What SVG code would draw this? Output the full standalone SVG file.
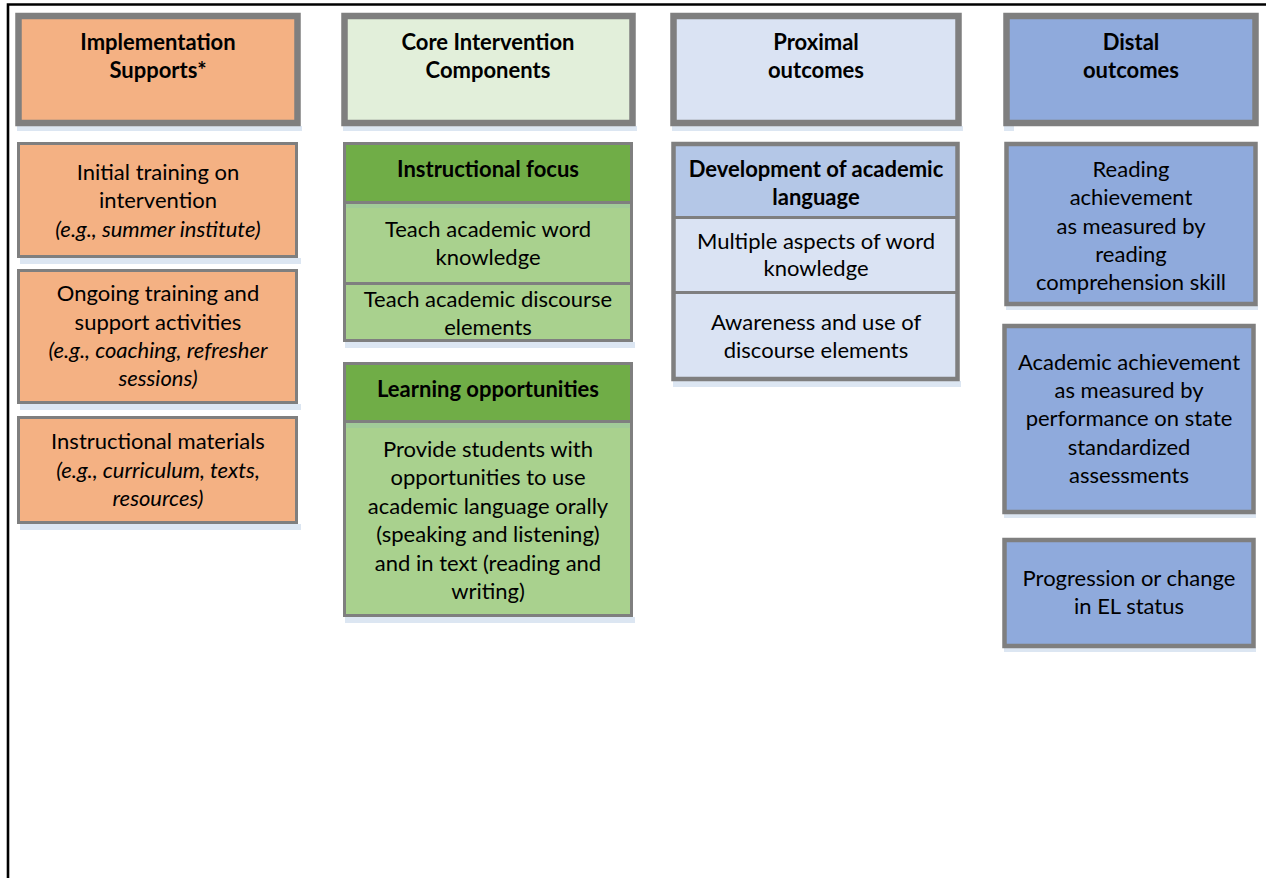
<svg xmlns="http://www.w3.org/2000/svg" width="1266" height="878" viewBox="0 0 1266 878">
  <style>
    text { font-family: Lato, "Open Sans", "Liberation Sans", sans-serif; font-size: 22px; fill: #000; text-anchor: middle; }
    .b { font-weight: bold; }
    .i { font-style: italic; }
    .frame { stroke: #000; stroke-width: 2.6; fill: none; }
    .shadow { fill: #dce6f2; }
    .thick { stroke: #7f7f7f; stroke-width: 6.5; }
    .mid { stroke: #7f7f7f; stroke-width: 4.5; }
    .thin { stroke: #7f7f7f; stroke-width: 3; }
    .div { stroke: #7f7f7f; stroke-width: 3; fill: none; }
    .orange { fill: #f4b183; }
    .paleGreen { fill: #e2efda; }
    .darkGreen { fill: #70ad47; }
    .green { fill: #a9d18e; }
    .paleBlue { fill: #dae3f3; }
    .lightBlue { fill: #b4c7e7; }
    .blue { fill: #8faadc; }
  </style>

  <!-- page frame -->
  <path class="frame" d="M8,878 V4.5 H1266"/>

  <!-- column headers -->
  <g id="header-implementation">
    <rect class="shadow" x="17" y="126" width="285" height="5"/>
    <rect class="orange thick" x="18.5" y="16" width="279" height="107"/>
    <text class="b" x="158" y="50">Implementation</text>
    <text class="b" x="158" y="78">Supports*</text>
  </g>
  <g id="header-core">
    <rect class="shadow" x="343" y="126" width="294" height="5"/>
    <rect class="paleGreen thick" x="344.5" y="16" width="288" height="107"/>
    <text class="b" x="488" y="50">Core Intervention</text>
    <text class="b" x="488" y="78">Components</text>
  </g>
  <g id="header-proximal">
    <rect class="shadow" x="672" y="126" width="291" height="5"/>
    <rect class="paleBlue thick" x="673.5" y="16" width="285" height="107"/>
    <text class="b" x="816" y="50">Proximal</text>
    <text class="b" x="816" y="78">outcomes</text>
  </g>
  <g id="header-distal">
    <rect class="shadow" x="1004" y="126" width="10" height="5"/>
    <rect class="blue thick" x="1006.5" y="16" width="249" height="107"/>
    <text class="b" x="1131" y="50">Distal</text>
    <text class="b" x="1131" y="78">outcomes</text>
  </g>

  <!-- implementation supports -->
  <g id="initial-training">
    <rect class="shadow" x="20" y="258" width="281" height="6"/>
    <rect class="orange thin" x="18.5" y="143.5" width="278" height="113"/>
    <text x="158" y="180">Initial training on</text>
    <text x="158" y="208">intervention</text>
    <text class="i" x="158" y="237">(e.g., summer institute)</text>
  </g>
  <g id="ongoing-training">
    <rect class="shadow" x="20" y="404" width="281" height="6"/>
    <rect class="orange thin" x="18.5" y="270.5" width="278" height="132"/>
    <text x="158" y="301">Ongoing training and</text>
    <text x="158" y="330">support activities</text>
    <text class="i" x="158" y="358">(e.g., coaching, refresher</text>
    <text class="i" x="158" y="386">sessions)</text>
  </g>
  <g id="instructional-materials">
    <rect class="shadow" x="20" y="524" width="281" height="6"/>
    <rect class="orange thin" x="18.5" y="417.5" width="278" height="105"/>
    <text x="158" y="449">Instructional materials</text>
    <text class="i" x="158" y="478">(e.g., curriculum, texts,</text>
    <text class="i" x="158" y="506">resources)</text>
  </g>

  <!-- core intervention components -->
  <g id="instructional-focus">
    <rect class="shadow" x="345" y="342" width="290" height="6"/>
    <rect class="darkGreen" x="344.5" y="143.5" width="287" height="60"/>
    <rect class="green" x="344.5" y="203.5" width="287" height="137"/>
    <rect fill="#9cc6a0" x="346" y="203" width="286" height="5" opacity="0.6"/>
    <rect fill="none" class="thin" x="344.5" y="143.5" width="287" height="197"/>
    <path class="div" d="M344.5,202.5 H631.5 M344.5,283.5 H631.5"/>
    <text class="b" x="488" y="177">Instructional focus</text>
    <text x="488" y="237">Teach academic word</text>
    <text x="488" y="265">knowledge</text>
    <text x="488" y="307">Teach academic discourse</text>
    <text x="488" y="335">elements</text>
  </g>
  <g id="learning-opportunities">
    <rect class="shadow" x="345" y="617" width="290" height="6"/>
    <rect class="darkGreen" x="344.5" y="363.5" width="287" height="59"/>
    <rect class="green" x="344.5" y="422.5" width="287" height="193"/>
    <rect fill="#9cc6a0" x="346" y="423" width="286" height="5" opacity="0.6"/>
    <rect fill="none" class="thin" x="344.5" y="363.5" width="287" height="252"/>
    <path class="div" d="M344.5,421.5 H631.5"/>
    <text class="b" x="488" y="397">Learning opportunities</text>
    <text x="488" y="457">Provide students with</text>
    <text x="488" y="485">opportunities to use</text>
    <text x="488" y="514">academic language orally</text>
    <text x="488" y="542">(speaking and listening)</text>
    <text x="488" y="571">and in text (reading and</text>
    <text x="488" y="599">writing)</text>
  </g>

  <!-- proximal outcomes -->
  <g id="academic-language">
    <rect class="shadow" x="673" y="381" width="288" height="6"/>
    <rect class="lightBlue" x="673.5" y="144" width="284" height="74"/>
    <rect class="paleBlue" x="673.5" y="218" width="284" height="161"/>
    <rect fill="none" class="mid" x="673.5" y="144" width="284" height="235"/>
    <path class="div" d="M673.5,217.5 H957.5 M673.5,292.5 H957.5"/>
    <text class="b" x="816" y="177">Development of academic</text>
    <text class="b" x="816" y="205">language</text>
    <text x="816" y="249">Multiple aspects of word</text>
    <text x="816" y="276">knowledge</text>
    <text x="816" y="330">Awareness and use of</text>
    <text x="816" y="358">discourse elements</text>
  </g>

  <!-- distal outcomes -->
  <g id="reading-achievement">
    <rect class="shadow" x="1006" y="305" width="252" height="5"/>
    <rect class="blue mid" x="1006.5" y="144" width="249" height="160"/>
    <text x="1131" y="177">Reading</text>
    <text x="1131" y="205">achievement</text>
    <text x="1131" y="234">as measured by</text>
    <text x="1131" y="262">reading</text>
    <text x="1131" y="290">comprehension skill</text>
  </g>
  <g id="academic-achievement">
    <rect class="shadow" x="1004" y="513" width="252" height="5"/>
    <rect class="blue mid" x="1004.5" y="326" width="249" height="186"/>
    <text x="1129" y="370">Academic achievement</text>
    <text x="1129" y="398">as measured by</text>
    <text x="1129" y="426">performance on state</text>
    <text x="1129" y="455">standardized</text>
    <text x="1129" y="483">assessments</text>
  </g>
  <g id="el-status">
    <rect class="shadow" x="1004" y="647" width="252" height="5"/>
    <rect class="blue mid" x="1004.5" y="540" width="249" height="106"/>
    <text x="1129" y="586">Progression or change</text>
    <text x="1129" y="614">in EL status</text>
  </g>

  <g id="connectors"></g>
</svg>
